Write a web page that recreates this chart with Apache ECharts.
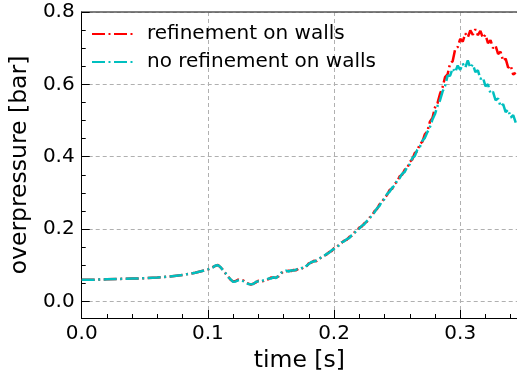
<!DOCTYPE html>
<html>
<head>
<meta charset="utf-8">
<script src="https://cdn.jsdelivr.net/npm/echarts@6/dist/echarts.min.js"></script>
<style>
  html, body { margin: 0; padding: 0; background: #fff; }
  #chart { width: 517px; height: 379px; }
</style>
</head>
<body>
<div id="chart"></div>
<script>
// time [s]
var time = [
    0.00, 0.01, 0.02, 0.03, 0.04, 0.05, 0.06, 0.07, 0.08, 0.09, 0.10,
    0.102, 0.104, 0.106, 0.108, 0.110, 0.112, 0.114, 0.116, 0.118, 0.120,
    0.122, 0.124, 0.126, 0.128, 0.130, 0.132, 0.134, 0.136, 0.138, 0.140,
    0.142, 0.144, 0.146, 0.148, 0.150, 0.152, 0.154, 0.156, 0.158, 0.160,
    0.162, 0.164, 0.166, 0.168, 0.170, 0.172, 0.174, 0.176, 0.178, 0.180,
    0.182, 0.184, 0.186, 0.188, 0.190, 0.192, 0.194, 0.196, 0.198, 0.200,
    0.202, 0.204, 0.206, 0.208, 0.210, 0.212, 0.214, 0.216, 0.218, 0.220,
    0.222, 0.224, 0.226, 0.228, 0.230, 0.232, 0.234, 0.236, 0.238, 0.240,
    0.242, 0.244, 0.246, 0.248, 0.250, 0.252, 0.254, 0.256, 0.258, 0.260,
    0.262, 0.264, 0.266, 0.268, 0.270, 0.272, 0.274, 0.276, 0.278, 0.280,
    0.282, 0.284, 0.286, 0.288, 0.290, 0.292, 0.294, 0.296, 0.298, 0.300,
    0.302, 0.304, 0.306, 0.308, 0.310, 0.312, 0.314, 0.316, 0.318, 0.320,
    0.322, 0.324, 0.326, 0.328, 0.330, 0.332, 0.334, 0.336, 0.338, 0.340,
    0.342, 0.344
];

// overpressure [bar], refinement on walls
var refined = [
    0.060, 0.060, 0.061, 0.062, 0.063, 0.064, 0.066, 0.069, 0.073, 0.079, 0.088,
    0.091, 0.095, 0.098, 0.101, 0.094, 0.087, 0.077, 0.069, 0.060, 0.055,
    0.056, 0.060, 0.059, 0.058, 0.052, 0.049, 0.046, 0.049, 0.052, 0.057,
    0.055, 0.056, 0.061, 0.061, 0.066, 0.065, 0.066, 0.069, 0.077, 0.083,
    0.083, 0.085, 0.084, 0.087, 0.086, 0.091, 0.090, 0.094, 0.096, 0.105,
    0.107, 0.112, 0.111, 0.118, 0.121, 0.127, 0.129, 0.136, 0.139, 0.147,
    0.149, 0.157, 0.162, 0.168, 0.170, 0.178, 0.181, 0.190, 0.195, 0.204,
    0.207, 0.216, 0.220, 0.231, 0.236, 0.249, 0.255, 0.268, 0.274, 0.287,
    0.294, 0.308, 0.311, 0.325, 0.331, 0.346, 0.350, 0.364, 0.368, 0.386,
    0.392, 0.410, 0.415, 0.436, 0.441, 0.462, 0.470, 0.497, 0.507, 0.536,
    0.548, 0.574, 0.592, 0.620, 0.628, 0.658, 0.664, 0.697, 0.703, 0.726,
    0.718, 0.741, 0.730, 0.749, 0.737, 0.752, 0.736, 0.748, 0.728, 0.737,
    0.714, 0.722, 0.700, 0.707, 0.684, 0.690, 0.665, 0.671, 0.646, 0.652,
    0.627, 0.632
];

// overpressure [bar], no refinement on walls
var noRefined = [
    0.060, 0.060, 0.061, 0.062, 0.063, 0.064, 0.066, 0.069, 0.073, 0.079, 0.088,
    0.092, 0.094, 0.099, 0.100, 0.095, 0.085, 0.078, 0.067, 0.061, 0.054,
    0.055, 0.058, 0.060, 0.056, 0.053, 0.048, 0.047, 0.048, 0.054, 0.055,
    0.054, 0.058, 0.059, 0.063, 0.063, 0.067, 0.064, 0.071, 0.079, 0.081,
    0.085, 0.082, 0.086, 0.085, 0.088, 0.089, 0.092, 0.091, 0.098, 0.103,
    0.109, 0.110, 0.113, 0.116, 0.123, 0.125, 0.131, 0.134, 0.141, 0.145,
    0.151, 0.155, 0.163, 0.166, 0.172, 0.175, 0.183, 0.188, 0.197, 0.201,
    0.209, 0.213, 0.222, 0.228, 0.239, 0.246, 0.257, 0.264, 0.277, 0.283,
    0.297, 0.303, 0.314, 0.320, 0.334, 0.341, 0.353, 0.358, 0.372, 0.379,
    0.396, 0.402, 0.419, 0.427, 0.444, 0.452, 0.468, 0.482, 0.503, 0.518,
    0.540, 0.556, 0.580, 0.596, 0.624, 0.624, 0.644, 0.634, 0.652, 0.640,
    0.657, 0.646, 0.666, 0.646, 0.655, 0.634, 0.639, 0.615, 0.619, 0.595,
    0.600, 0.575, 0.579, 0.556, 0.561, 0.539, 0.545, 0.523, 0.530, 0.508,
    0.515, 0.494
];

var FONT = 'DejaVu Sans';
var X_MIN = 0, X_MAX = 0.345;
var Y_MIN = -0.046, Y_MAX = 0.8;
var gridLine = { show: true, lineStyle: { color: '#b0b0b0', type: [4, 3], width: 1 } };
var DASHDOT = [13, 3.5, 2, 3.5];

var myChart = echarts.init(document.getElementById('chart'));

var option = {
    animation: false,
    textStyle: { fontFamily: FONT },
    grid: { left: 81, right: 0, top: 12, bottom: 61 },
    legend: {
        left: 86,
        top: 18,
        orient: 'vertical',
        itemWidth: 42,
        itemHeight: 14,
        itemGap: 6,
        itemStyle: { opacity: 0 },
        textStyle: { fontFamily: FONT, fontSize: 20, color: '#000', padding: [0, 0, 0, 8], lineHeight: 22 },
        data: ['refinement on walls', 'no refinement on walls']
    },
    xAxis: [
        {   // main x axis
            type: 'value', min: X_MIN, max: X_MAX, interval: 0.1,
            position: 'bottom',
            name: 'time [s]', nameLocation: 'middle', nameGap: 31,
            nameTextStyle: { fontFamily: FONT, fontSize: 23.5, color: '#000' },
            axisLine: { show: true, onZero: false, lineStyle: { color: '#000', width: 1 } },
            axisTick: { show: true, inside: true, length: 8, lineStyle: { color: '#000', width: 1 } },
            axisLabel: { fontFamily: FONT, fontSize: 20, color: '#000', margin: 6, showMaxLabel: false,
                formatter: function (v) { return v.toFixed(1); } },
            splitLine: gridLine
        },
        {   // minor ticks
            type: 'value', min: X_MIN, max: X_MAX, interval: 0.02,
            position: 'bottom',
            axisLine: { show: true, onZero: false, lineStyle: { color: '#000', width: 1 } },
            axisTick: { show: true, inside: true, length: 4, lineStyle: { color: '#000', width: 1 } },
            axisLabel: { show: false },
            splitLine: { show: false }
        },
        {   // top frame
            type: 'value', min: X_MIN, max: X_MAX,
            position: 'top',
            axisLine: { show: true, onZero: false, lineStyle: { color: '#555', width: 1.5 } },
            axisTick: { show: false },
            axisLabel: { show: false },
            splitLine: { show: false }
        }
    ],
    yAxis: [
        {   // main y axis
            type: 'value', min: Y_MIN, max: Y_MAX, minInterval: 0.2, maxInterval: 0.2,
            position: 'left',
            name: 'overpressure [bar]', nameLocation: 'middle', nameGap: 40,
            nameTextStyle: { fontFamily: FONT, fontSize: 23.5, color: '#000' },
            axisLine: { show: true, onZero: false, lineStyle: { color: '#000', width: 1 } },
            axisTick: { show: true, inside: true, length: 8, lineStyle: { color: '#000', width: 1 } },
            axisLabel: { fontFamily: FONT, fontSize: 20, color: '#000', margin: 7, showMinLabel: false,
                formatter: function (v) { return v.toFixed(1); } },
            splitLine: gridLine
        },
        {   // minor ticks
            type: 'value', min: Y_MIN, max: Y_MAX, minInterval: 0.05, maxInterval: 0.05,
            position: 'left',
            axisLine: { show: true, onZero: false, lineStyle: { color: '#000', width: 1 } },
            axisTick: { show: true, inside: true, length: 4, lineStyle: { color: '#000', width: 1 } },
            axisLabel: { show: false },
            splitLine: { show: false }
        }
    ],
    series: [
        {
            name: 'refinement on walls',
            type: 'line',
            xAxisIndex: 0, yAxisIndex: 0,
            showSymbol: false, symbol: 'none',
            color: '#ff0000',
            lineStyle: { color: '#ff0000', width: 2.5, type: DASHDOT },
            data: time.map(function (t, i) { return [t, refined[i]]; })
        },
        {
            name: 'no refinement on walls',
            type: 'line',
            xAxisIndex: 0, yAxisIndex: 0,
            showSymbol: false, symbol: 'none',
            color: '#00bfbf',
            lineStyle: { color: '#00bfbf', width: 2.5, type: DASHDOT },
            data: time.map(function (t, i) { return [t, noRefined[i]]; })
        }
    ]
};

myChart.setOption(option);
</script>
</body>
</html>
